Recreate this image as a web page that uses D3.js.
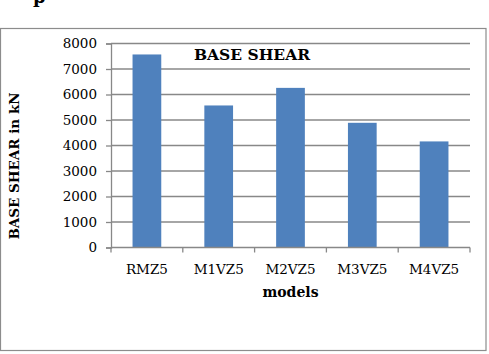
<!DOCTYPE html>
<html>
<head>
<meta charset="utf-8">
<script src="https://cdn.jsdelivr.net/npm/d3@7"></script>
<style>
  body { margin: 0; background: #fff; }
  svg { display: block; }
</style>
</head>
<body>
<div id="chart"></div>
<script>
// chart data
const models = ['RMZ5', 'M1VZ5', 'M2VZ5', 'M3VZ5', 'M4VZ5'];
const baseShear = [7570, 5570, 6260, 4890, 4160];
const yTicks = [0, 1000, 2000, 3000, 4000, 5000, 6000, 7000, 8000];

const width = 489, height = 354;
const font = '"DejaVu Serif", serif';
const margin = { top: 43.5, left: 111, right: 19, bottom: 106.5 };

const svg = d3.select('#chart')
    .append('svg')
    .attr('width', width)
    .attr('height', height);

// fragment of the page heading above the figure
svg.append('text')
    .attr('x', 33).attr('y', 3)
    .attr('font-family', font)
    .attr('font-weight', 'bold')
    .attr('font-size', 18)
    .text('p');

// outer frame
svg.append('rect')
    .attr('x', 0.5).attr('y', 28.5)
    .attr('width', 485.5).attr('height', 322)
    .attr('fill', 'none')
    .attr('stroke', '#8c8c8c')
    .attr('stroke-width', 1.2);

const x = d3.scaleBand()
    .domain(models)
    .range([margin.left, width - margin.right])
    .paddingInner(0.6)
    .paddingOuter(0.3);

const y = d3.scaleLinear()
    .domain([0, 8000])
    .range([height - margin.bottom, margin.top]);

// gridlines
svg.append('g')
    .selectAll('line')
    .data(yTicks.slice(1))
    .join('line')
    .attr('x1', margin.left)
    .attr('x2', width - margin.right)
    .attr('y1', d => y(d))
    .attr('y2', d => y(d))
    .attr('stroke', '#888')
    .attr('stroke-width', 1.3);

// bars
svg.append('g')
    .selectAll('rect')
    .data(models)
    .join('rect')
    .attr('x', d => x(d))
    .attr('width', x.bandwidth())
    .attr('y', (d, i) => y(baseShear[i]))
    .attr('height', (d, i) => y(0) - y(baseShear[i]))
    .attr('fill', '#4f81bd');

// y axis
const yAxis = svg.append('g')
    .attr('transform', `translate(${margin.left},0)`)
    .call(d3.axisLeft(y).tickValues(yTicks).tickFormat(d3.format('d')).tickSize(5).tickPadding(9));
yAxis.select('.domain').attr('stroke', '#888').attr('stroke-width', 1.3);
yAxis.selectAll('.tick line').attr('stroke', '#888').attr('stroke-width', 1.3);
yAxis.selectAll('text')
    .attr('font-family', font)
    .attr('font-size', 13.5)
    .attr('fill', '#000');

// x axis: ticks sit on category boundaries
const xAxis = svg.append('g')
    .attr('transform', `translate(0,${y(0)})`);
xAxis.append('line')
    .attr('x1', margin.left)
    .attr('x2', width - margin.right)
    .attr('stroke', '#888')
    .attr('stroke-width', 1.3);
xAxis.selectAll('line.tk')
    .data(d3.range(models.length + 1))
    .join('line')
    .attr('class', 'tk')
    .attr('x1', i => margin.left + i * (width - margin.left - margin.right) / models.length)
    .attr('x2', i => margin.left + i * (width - margin.left - margin.right) / models.length)
    .attr('y1', 0).attr('y2', 5)
    .attr('stroke', '#888')
    .attr('stroke-width', 1.3);
xAxis.selectAll('text')
    .data(models)
    .join('text')
    .attr('x', d => x(d) + x.bandwidth() / 2)
    .attr('y', 26)
    .attr('text-anchor', 'middle')
    .attr('font-family', font)
    .attr('font-size', 13.5)
    .text(d => d);

// titles
svg.append('text')
    .attr('x', 252).attr('y', 60)
    .attr('text-anchor', 'middle')
    .attr('font-family', font)
    .attr('font-weight', 'bold')
    .attr('font-size', 15.5)
    .text('BASE SHEAR');

svg.append('text')
    .attr('x', (margin.left + width - margin.right) / 2)
    .attr('y', 297)
    .attr('text-anchor', 'middle')
    .attr('font-family', font)
    .attr('font-weight', 'bold')
    .attr('font-size', 14)
    .text('models');

svg.append('text')
    .attr('transform', 'translate(19,166) rotate(-90)')
    .attr('text-anchor', 'middle')
    .attr('font-family', font)
    .attr('font-weight', 'bold')
    .attr('font-size', 13.5)
    .text('BASE SHEAR in kN');
</script>
</body>
</html>
